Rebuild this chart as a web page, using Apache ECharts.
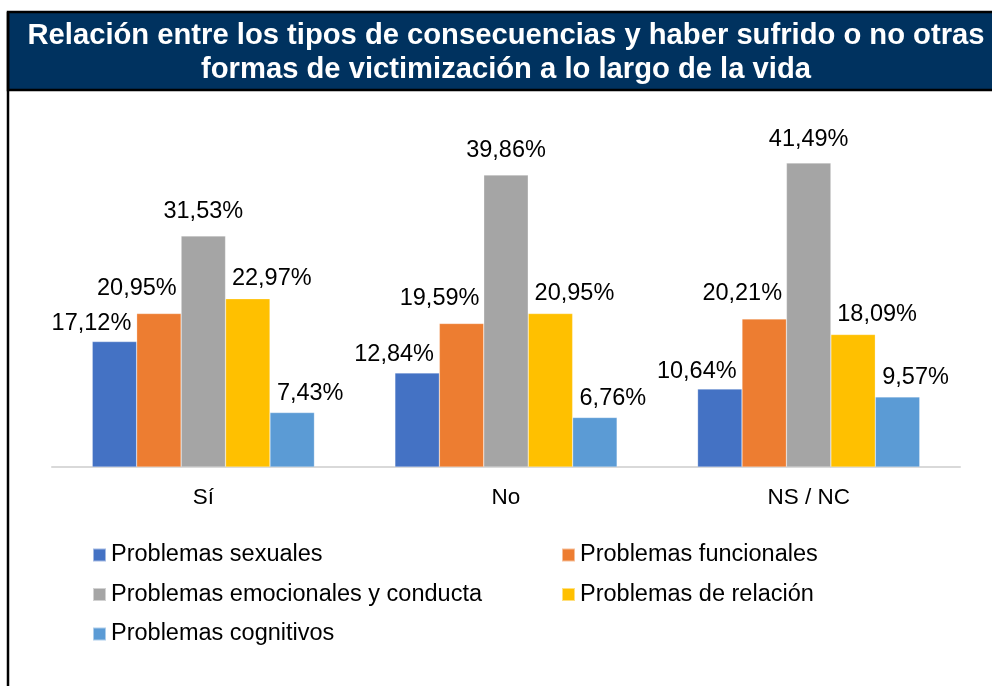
<!DOCTYPE html>
<html>
<head>
<meta charset="utf-8">
<script src="https://cdn.jsdelivr.net/npm/echarts@6/dist/echarts.min.js"></script>
<style>
  html, body { margin: 0; padding: 0; background: #fff; }
  #chart { width: 992px; height: 686px; }
</style>
</head>
<body>
<div id="chart"></div>
<script>
const categories = ['Sí', 'No', 'NS / NC'];
const seriesNames = [
  'Problemas sexuales',
  'Problemas funcionales',
  'Problemas emocionales y conducta',
  'Problemas de relación',
  'Problemas cognitivos'
];
const sexuales = [17.12, 12.84, 10.64];
const funcionales = [20.95, 19.59, 20.21];
const emocionales = [31.53, 39.86, 41.49];
const relacion = [22.97, 20.95, 18.09];
const cognitivos = [7.43, 6.76, 9.57];
const colors = ['#4472C4', '#ED7D31', '#A5A5A5', '#FFC000', '#5B9BD5'];

const values = [sexuales, funcionales, emocionales, relacion, cognitivos];
// desplazamiento de etiquetas como en el original (Excel)
const labelShift = [-23, -22, 0, 24, 18];
const labelDist = [6, 13, 12, 8, 7];
const font = 'Arial, "Liberation Sans", sans-serif';

let chart = echarts.init(document.getElementById('chart'));
let legendBase = {
  top: 543,
  orient: 'vertical',
  icon: 'rect',
  padding: 0,
  itemWidth: 13,
  itemHeight: 13,
  itemGap: 15.5,
  textStyle: { fontSize: 23.5, color: '#000', lineHeight: 23.5, fontFamily: font }
};
let option = {
  animation: false,
  textStyle: { fontFamily: font },
  graphic: [{
    type: 'rect',
    shape: { x: 8, y: 12, width: 1000, height: 78 },
    style: { fill: '#00325F', stroke: '#000', lineWidth: 2.5 },
    z: 0
  }, {
    type: 'line',
    shape: { x1: 8, y1: 12, x2: 8, y2: 700 },
    style: { stroke: '#000', lineWidth: 2.5 },
    z: 1
  }, {
    type: 'text',
    x: 506,
    y: 18.5,
    style: {
      text: 'Relación entre los tipos de consecuencias y haber sufrido o no otras\nformas de victimización a lo largo de la vida',
      align: 'center',
      verticalAlign: 'top',
      fill: '#fff',
      font: 'bold 29.2px ' + font,
      lineHeight: 34
    },
    z: 2
  }],
  legend: [
    Object.assign({}, legendBase, { left: 92, data: [seriesNames[0], seriesNames[2], seriesNames[4]] }),
    Object.assign({}, legendBase, { left: 561, data: [seriesNames[1], seriesNames[3]] })
  ],
  grid: { left: 52, right: 32, top: 100.7, bottom: 219 },
  xAxis: {
    type: 'category',
    data: categories,
    axisLine: { lineStyle: { color: '#D9D9D9', width: 2 } },
    axisTick: { show: false },
    axisLabel: { fontSize: 22.5, color: '#000', margin: 19, fontFamily: font }
  },
  yAxis: {
    type: 'value',
    min: 0,
    max: 50,
    show: false,
    splitLine: { show: false }
  },
  series: seriesNames.map((name, i) => ({
    name: name,
    type: 'bar',
    data: values[i],
    barGap: 0,
    barCategoryGap: '26.6%',
    itemStyle: { color: colors[i], borderColor: 'rgba(255,255,255,0.5)', borderWidth: 0.5 },
    label: {
      show: true,
      position: 'top',
      distance: labelDist[i],
      offset: [labelShift[i], 0],
      fontSize: 23.5,
      color: '#000',
      fontFamily: font,
      formatter: p => p.value.toFixed(2).replace('.', ',') + '%'
    }
  }))
};
chart.setOption(option);
</script>
</body>
</html>
